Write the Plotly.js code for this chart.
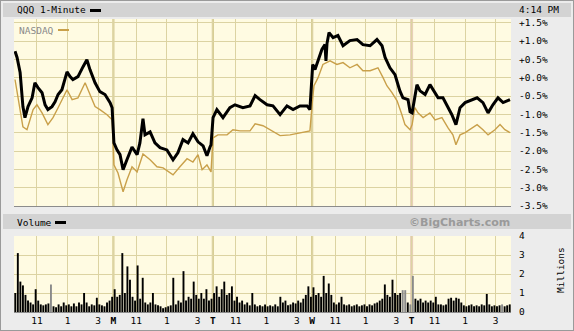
<!DOCTYPE html>
<html><head><meta charset="utf-8">
<script src="https://cdn.plot.ly/plotly-3.0.1.min.js"></script>
<style>html,body{margin:0;padding:0;background:#ececec;}#chart{width:574px;height:331px;}</style>
</head><body><div id="chart"></div>
<script>
// minutes from Friday 9:30 open (390 trading minutes per day, 5 days)
const qqqMin = [4,12,24,35,43,55,71,82,94,110,122,133,149,161,173,188,208,220,231,251,271,286,298,318,337,357,377,385,
 392,404,416,428,443,463,483,494,506,514,534,553,573,600,624,643,663,683,702,722,742,757,769,773,
 781,796,820,847,867,898,926,946,965,993,1016,1044,1071,1095,1122,1150,1161,
 1172,1181,1193,1208,1220,1224,1228,1236,1252,1271,1291,1318,1346,1369,1397,1424,1444,1456,1475,1495,1514,1526,1546,1554,
 1562,1581,1593,1613,1632,1644,1664,1683,1703,1718,1734,1750,1770,1789,1817,1840,1860,1879,1899,1919,1938,1946];
const qqqPct = [0.72,0.55,0.14,-0.79,-1.09,-0.79,-0.55,-0.14,-0.27,-0.41,-0.74,-0.87,-0.79,-0.66,-0.46,-0.33,0.16,0.03,-0.05,0.03,0.30,0.49,0.22,-0.14,-0.38,-0.46,-0.68,-0.82,
 -1.78,-1.97,-2.10,-2.51,-2.24,-1.89,-2.10,-1.78,-1.12,-1.56,-1.48,-1.78,-1.91,-1.97,-2.24,-2.05,-1.69,-1.78,-1.53,-1.75,-1.86,-2.13,-1.89,-1.83,
 -1.09,-0.87,-1.09,-0.82,-0.74,-0.82,-0.77,-0.49,-0.60,-0.74,-0.77,-1.01,-0.77,-0.87,-0.77,-0.77,-0.87,
 0.36,0.22,0.46,0.77,0.90,0.46,0.93,1.23,1.09,1.15,0.87,1.01,1.04,0.90,0.87,1.04,0.87,0.55,0.27,0.08,-0.36,-0.55,-0.60,-0.93,
 -0.96,-0.19,-0.36,-0.46,-0.19,-0.33,-0.55,-0.55,-0.82,-1.01,-1.28,-0.82,-0.68,-0.63,-0.55,-0.68,-0.96,-0.74,-0.55,-0.68,-0.63,-0.60];
const ndxMin = [4,16,35,51,63,75,90,110,133,153,173,208,228,251,279,290,318,337,365,385,
 392,408,428,443,463,483,506,534,561,585,624,651,679,702,722,738,757,773,
 781,800,836,859,887,926,946,977,1004,1044,1083,1122,1161,
 1172,1177,1193,1212,1240,1267,1291,1318,1346,1369,1397,1428,1448,1463,1483,1503,1522,1534,1554,
 1562,1573,1585,1605,1632,1652,1679,1703,1722,1734,1750,1770,1789,1817,1840,1860,1887,1907,1926,1946];
const ndxPct = [-0.05,-0.52,-1.34,-1.42,-1.15,-0.87,-0.74,-0.96,-1.28,-1.09,-0.82,-0.33,-0.60,-0.55,-0.14,-0.33,-0.79,-0.87,-1.01,-1.15,
 -2.38,-2.60,-3.11,-2.79,-2.43,-2.57,-2.08,-2.24,-2.43,-2.46,-2.65,-2.43,-2.21,-2.30,-2.10,-2.51,-2.38,-2.57,
 -1.64,-1.56,-1.56,-1.42,-1.45,-1.45,-1.26,-1.31,-1.42,-1.58,-1.56,-1.50,-1.45,
 -0.55,-0.22,0.00,0.36,0.46,0.36,0.41,0.27,0.36,0.19,0.19,0.27,0.00,-0.22,-0.41,-0.63,-1.01,-1.28,-1.42,
 -1.28,-0.82,-0.96,-1.09,-0.96,-1.15,-1.09,-1.37,-1.56,-1.83,-1.56,-1.50,-1.42,-1.28,-1.42,-1.56,-1.42,-1.28,-1.42,-1.50];
// volume in millions, 10-minute bins (39 per day)
const volFri = [1.0,3.1,1.6,1.4,0.9,0.6,0.5,0.4,1.2,0.6,0.4,0.35,0.4,0.45,1.45,0.3,0.25,0.4,0.3,0.5,0.35,0.4,0.3,0.45,0.3,0.5,0.4,1.0,0.5,0.3,0.4,0.35,0.75,0.4,0.35,0.3,0.5,0.6,0.8];
const volMon = [1.2,0.8,0.9,3.1,1.0,2.4,1.7,0.8,0.6,2.45,0.7,1.8,0.5,0.4,0.5,1.0,0.4,0.35,0.3,0.2,0.25,0.3,0.35,1.8,0.4,0.6,0.5,2.15,0.6,0.8,0.7,1.6,0.9,0.7,1.0,0.7,1.2,0.6,0.7];
const volTue = [1.0,1.35,0.8,1.2,1.6,0.9,1.0,1.35,0.6,0.8,0.5,0.6,0.4,0.5,0.35,1.0,0.4,0.3,0.35,0.3,0.4,0.3,0.35,0.3,0.4,0.3,0.8,0.5,0.6,0.35,0.4,0.5,0.45,0.6,0.5,0.7,0.9,1.35,0.8];
const volWed = [1.3,0.9,1.0,0.8,1.9,1.0,1.5,0.9,0.5,0.4,0.5,0.8,0.4,0.35,0.4,0.3,0.35,0.4,0.3,0.35,0.4,0.3,0.4,0.35,0.45,0.5,0.6,0.7,1.45,0.9,0.8,1.7,1.0,0.9,1.0,1.15,1.15,0.5,0.4];
const volThu = [1.9,0.7,0.6,0.7,0.5,0.6,0.5,0.6,0.5,0.8,0.4,0.4,0.35,0.4,0.7,0.75,0.6,0.75,0.7,0.5,0.35,0.3,0.35,0.4,0.3,0.35,0.3,0.4,0.35,0.95,0.4,0.3,0.35,0.3,0.35,0.4,0.3,0.35,0.4];
const volGrayBins = [14, 152, 153, 155, 156, 191];
const priceTicks = [1.5,1.0,0.5,0.0,-0.5,-1.0,-1.5,-2.0,-2.5,-3.0,-3.5];
const priceTickText = ['+1.5%','+1.0%','+0.5%','+0.0%','-0.5%','-1.0%','-1.5%','-2.0%','-2.5%','-3.0%','-3.5%'];
const timeTicks = [90,210,330,390,480,600,720,780,870,990,1110,1170,1260,1380,1500,1560,1650,1770,1890];
const timeTickText = ['11','1','3','<b>M</b>','11','1','3','<b>T</b>','11','1','3','<b>W</b>','11','1','3','<b>T</b>','11','1','3'];
const dayBreaks = [390,780,1170,1560];

const vol = [].concat(volFri, volMon, volTue, volWed, volThu);
const volMin = vol.map((v,i)=>i*10+5);
const volColor = vol.map((v,i)=> volGrayBins.includes(i) ? '#8a8a8a' : '#000000');

const mono = 'DejaVu Sans Mono, monospace';
const grid = '#dcd3a2';
const traces = [
  {x: ndxMin, y: ndxPct, type:'scatter', mode:'lines', line:{color:'#c9a04a', width:1.4}, xaxis:'x', yaxis:'y', hoverinfo:'skip'},
  {x: qqqMin, y: qqqPct, type:'scatter', mode:'lines', line:{color:'#000000', width:3}, xaxis:'x', yaxis:'y', hoverinfo:'skip'},
  {x: volMin, y: vol, type:'bar', marker:{color: volColor, line:{width:0}}, xaxis:'x2', yaxis:'y2', hoverinfo:'skip'}
];

const shapes = [
  {type:'rect', xref:'paper', yref:'paper', x0:0, x1:1, y0:0, y1:1, line:{color:'#9a9a9a', width:2}, fillcolor:'rgba(0,0,0,0)', layer:'below'},
  {type:'rect', xref:'paper', yref:'paper', x0:3/574, x1:571/574, y0:1-17/331, y1:1-3/331, line:{width:0}, fillcolor:'#d3d3d3', layer:'below'},
  {type:'rect', xref:'paper', yref:'paper', x0:3/574, x1:571/574, y0:1-229/331, y1:1-214/331, line:{width:0}, fillcolor:'#d3d3d3', layer:'below'},
  {type:'rect', xref:'paper', yref:'paper', x0:90/574, x1:101/574, y0:1-12/331, y1:1-9/331, line:{width:0}, fillcolor:'#000'},
  {type:'rect', xref:'paper', yref:'paper', x0:58/574, x1:69/574, y0:1-31/331, y1:1-29/331, line:{width:0}, fillcolor:'#c9a04a'},
  {type:'rect', xref:'paper', yref:'paper', x0:55/574, x1:66/574, y0:1-224/331, y1:1-221/331, line:{width:0}, fillcolor:'#000'}
];
dayBreaks.forEach((d,k)=>{
  const pink = (k===3);
  ['y','y2'].forEach(ya=>{
    shapes.push({type:'line', xref:'x', yref: ya+' domain', x0:d, x1:d, y0:0, y1:1,
      line:{color: pink ? '#e8cfb8' : '#cfc383', width: pink ? 3 : 2}, layer:'below'});
  });
});

const annotations = [
  {text:'QQQ 1-Minute', xref:'paper', yref:'paper', x:15/574, y:1-10/331, xanchor:'left', yanchor:'middle', showarrow:false, font:{family:mono, size:9.5, color:'#000'}},
  {text:'4:14 PM', xref:'paper', yref:'paper', x:561/574, y:1-10/331, xanchor:'right', yanchor:'middle', showarrow:false, font:{family:mono, size:9.5, color:'#000'}},
  {text:'NASDAQ', xref:'paper', yref:'paper', x:17/574, y:1-30/331, xanchor:'left', yanchor:'middle', showarrow:false, font:{family:mono, size:9.5, color:'#8a8a8a'}},
  {text:'Volume', xref:'paper', yref:'paper', x:15/574, y:1-222/331, xanchor:'left', yanchor:'middle', showarrow:false, font:{family:mono, size:9.5, color:'#000'}},
  {text:'©BigCharts.com', xref:'paper', yref:'paper', x:512/574, y:1-222/331, xanchor:'right', yanchor:'middle', showarrow:false, font:{family:'DejaVu Sans, sans-serif', size:11, color:'#9a9a9a', weight:'bold'}},
  {text:'Millions', xref:'paper', yref:'paper', x:560/574, y:1-270/331, xanchor:'center', yanchor:'middle', textangle:-90, showarrow:false, font:{family:mono, size:9.5, color:'#000'}}
];

const layout = {
  width:574, height:331, margin:{l:0, r:0, t:0, b:0},
  paper_bgcolor:'#ececec', plot_bgcolor:'#fffbe2',
  showlegend:false, bargap:0.25,
  xaxis:{domain:[14/574, 511/574], range:[0,1950], anchor:'y', tickvals:timeTicks, showticklabels:false, ticks:'',
    showgrid:true, gridcolor:grid, gridwidth:1, zeroline:false, showline:true, linecolor:'#8c8c8c', linewidth:1, mirror:false},
  yaxis:{domain:[1-206/331, 1-19/331], range:[-3.5,1.6], side:'right', anchor:'x', tickvals:priceTicks, ticktext:priceTickText,
    showgrid:true, gridcolor:grid, gridwidth:1, zeroline:false, showline:false, ticks:'', ticklabelstandoff:7,
    tickfont:{family:mono, size:9.5, color:'#000'}},
  xaxis2:{domain:[14/574, 511/574], range:[0,1950], anchor:'y2', tickvals:timeTicks, ticktext:timeTickText,
    showgrid:true, gridcolor:grid, gridwidth:1, zeroline:false, showline:true, linecolor:'#8c8c8c', linewidth:1, ticks:'',
    tickfont:{family:mono, size:9.5, color:'#000'}},
  yaxis2:{domain:[1-312/331, 1-236/331], range:[0,4], side:'right', anchor:'x2', tickvals:[0,1,2,3,4],
    showgrid:true, gridcolor:grid, gridwidth:1, zeroline:false, showline:false, ticks:'', ticklabelstandoff:7,
    tickfont:{family:mono, size:9.5, color:'#000'}},
  shapes: shapes,
  annotations: annotations
};
Plotly.newPlot('chart', traces, layout, {staticPlot:true, displayModeBar:false});
</script></body></html>
